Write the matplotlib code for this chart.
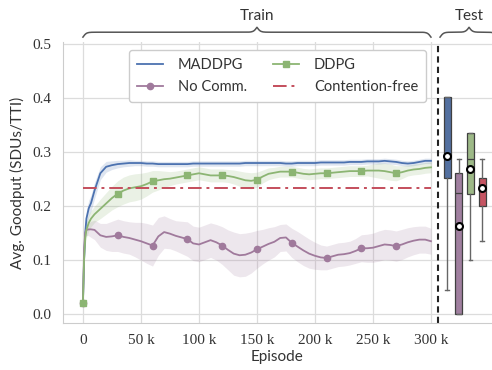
import matplotlib.pyplot as plt
import numpy as np
from matplotlib.ticker import FuncFormatter
import matplotlib.transforms as mtransforms

# episodes in thousands
episodes_k = [0, 1, 2, 3, 5, 7, 10, 15, 20, 25, 30, 35, 40, 45, 50, 55, 60, 65, 70, 75,
              80, 85, 90, 95, 100, 105, 110, 115, 120, 125, 130, 135, 140, 145, 150, 155,
              160, 165, 170, 175, 180, 185, 190, 195, 200, 205, 210, 215, 220, 225, 230,
              235, 240, 245, 250, 255, 260, 265, 270, 275, 280, 285, 290, 295, 300]

maddpg = [0.02, 0.10, 0.15, 0.176, 0.195, 0.205, 0.228, 0.26, 0.272, 0.275, 0.277, 0.278,
          0.279, 0.279, 0.279, 0.278, 0.278, 0.277, 0.277, 0.277, 0.277, 0.277, 0.277,
          0.278, 0.278, 0.278, 0.278, 0.278, 0.278, 0.278, 0.278, 0.278, 0.279, 0.279,
          0.279, 0.279, 0.279, 0.279, 0.279, 0.278, 0.278, 0.279, 0.279, 0.279, 0.279,
          0.280, 0.280, 0.280, 0.280, 0.280, 0.281, 0.281, 0.281, 0.282, 0.282, 0.282,
          0.283, 0.282, 0.281, 0.279, 0.278, 0.279, 0.281, 0.283, 0.283]
maddpg_sd = [0.0, 0.01, 0.015, 0.015, 0.015, 0.015, 0.015, 0.012, 0.01, 0.008, 0.007,
             0.006, 0.006, 0.005, 0.005, 0.005, 0.005, 0.005, 0.005, 0.005, 0.005, 0.005,
             0.005, 0.005, 0.005, 0.005, 0.005, 0.005, 0.005, 0.005, 0.005, 0.005, 0.005,
             0.005, 0.005, 0.005, 0.005, 0.005, 0.005, 0.005, 0.005, 0.005, 0.005, 0.005,
             0.005, 0.005, 0.005, 0.005, 0.005, 0.005, 0.005, 0.005, 0.005, 0.005, 0.005,
             0.005, 0.005, 0.005, 0.005, 0.005, 0.005, 0.005, 0.005, 0.005, 0.005]

ddpg = [0.02, 0.10, 0.14, 0.155, 0.168, 0.176, 0.184, 0.194, 0.204, 0.214, 0.222, 0.228,
        0.232, 0.234, 0.236, 0.240, 0.245, 0.247, 0.249, 0.250, 0.252, 0.254, 0.256,
        0.258, 0.260, 0.258, 0.256, 0.256, 0.256, 0.255, 0.253, 0.250, 0.247, 0.246,
        0.248, 0.254, 0.259, 0.261, 0.263, 0.263, 0.263, 0.261, 0.259, 0.258, 0.259,
        0.260, 0.260, 0.261, 0.262, 0.263, 0.264, 0.264, 0.264, 0.265, 0.265, 0.265,
        0.264, 0.262, 0.260, 0.262, 0.265, 0.267, 0.268, 0.270, 0.271]
ddpg_sd = [0.0, 0.01, 0.012, 0.015, 0.015, 0.015, 0.015, 0.018, 0.02, 0.022, 0.024, 0.025,
           0.025, 0.025, 0.024, 0.022, 0.02, 0.018, 0.015, 0.013, 0.012, 0.012, 0.012,
           0.012, 0.012, 0.012, 0.012, 0.012, 0.012, 0.012, 0.013, 0.014, 0.015, 0.015,
           0.014, 0.012, 0.011, 0.01, 0.01, 0.01, 0.01, 0.01, 0.01, 0.01, 0.01, 0.01,
           0.01, 0.01, 0.01, 0.01, 0.01, 0.01, 0.01, 0.01, 0.012, 0.014, 0.015, 0.015,
           0.014, 0.012, 0.01, 0.01, 0.01, 0.01, 0.01]

no_comm = [0.02, 0.12, 0.15, 0.155, 0.156, 0.156, 0.155, 0.145, 0.142, 0.143, 0.145,
           0.142, 0.140, 0.137, 0.134, 0.130, 0.126, 0.143, 0.151, 0.148, 0.144, 0.141,
           0.138, 0.130, 0.128, 0.132, 0.136, 0.132, 0.126, 0.118, 0.111, 0.108, 0.109,
           0.113, 0.119, 0.124, 0.129, 0.133, 0.140, 0.141, 0.131, 0.124, 0.117, 0.111,
           0.107, 0.104, 0.103, 0.106, 0.109, 0.110, 0.112, 0.116, 0.121, 0.121, 0.122,
           0.125, 0.128, 0.127, 0.125, 0.128, 0.132, 0.135, 0.137, 0.137, 0.134]
no_comm_sd = [0.0, 0.005, 0.008, 0.01, 0.012, 0.015, 0.018, 0.022, 0.025, 0.028, 0.03,
              0.03, 0.03, 0.032, 0.035, 0.037, 0.038, 0.035, 0.03, 0.028, 0.028, 0.03,
              0.032, 0.032, 0.032, 0.032, 0.032, 0.033, 0.035, 0.037, 0.04, 0.04, 0.04,
              0.038, 0.035, 0.032, 0.03, 0.028, 0.025, 0.025, 0.027, 0.028, 0.028, 0.027,
              0.025, 0.023, 0.022, 0.022, 0.022, 0.022, 0.022, 0.023, 0.025, 0.026, 0.027,
              0.028, 0.028, 0.028, 0.028, 0.028, 0.027, 0.026, 0.025, 0.025, 0.024]

contention_free = 0.233

# test results (box plots)
box_names = ['MADDPG', 'No Comm.', 'DDPG', 'Contention-free']
box_q1 = [0.251, 0.0, 0.222, 0.200]
box_med = [0.290, 0.223, 0.287, 0.235]
box_q3 = [0.402, 0.260, 0.335, 0.251]
box_lo = [0.043, 0.0, 0.100, 0.134]
box_hi = [0.402, 0.286, 0.335, 0.286]
box_mean = [0.292, 0.162, 0.268, 0.233]

c_blue = '#4c72b0'
c_green = '#8cb573'
c_purple = '#a07a9c'
c_red = '#c44e5c'
box_colors = ['#5370a0', '#a07f9f', '#9db987', '#c55462']

sans = ['Lato', 'DejaVu Sans']
serif = ['Liberation Serif', 'DejaVu Serif']

fig = plt.figure(figsize=(4.92, 3.70), dpi=100)
ax = fig.add_axes([0.128, 0.127, 0.872, 0.759])

x = np.array(episodes_k) * 1000.0
mark_idx = [i for i, e in enumerate(episodes_k) if e % 30 == 0 and e < 300]

def curve(y, sd, color, label, marker=None, ms=4.5):
    y = np.array(y)
    sd = np.array(sd)
    ax.fill_between(x, y - sd, y + sd, color=color, alpha=0.18, lw=0)
    line, = ax.plot(x, y, color=color, lw=1.3, label=label, marker=marker,
                    ms=ms, markevery=mark_idx if marker else None)
    return line

h_mad = curve(maddpg, maddpg_sd, c_blue, 'MADDPG')
h_nc = curve(no_comm, no_comm_sd, c_purple, 'No Comm.', 'o')
h_dd = curve(ddpg, ddpg_sd, c_green, 'DDPG', 's', 4.2)
h_cf, = ax.plot([0, 300000], [contention_free, contention_free], color=c_red, lw=1.4,
                ls=(0, (7, 2.5, 1.5, 2.5)), label='Contention-free')

# boxes for the test phase
stats = []
for i in range(len(box_names)):
    stats.append(dict(label=box_names[i], q1=box_q1[i], med=box_med[i], q3=box_q3[i],
                      whislo=box_lo[i], whishi=box_hi[i], mean=box_mean[i], fliers=[]))
positions = [314000 + 10000 * i for i in range(len(stats))]
bp = ax.bxp(stats, positions=positions, widths=6000, patch_artist=True, showmeans=True,
            manage_ticks=False,
            boxprops=dict(edgecolor='#404040', lw=0.9),
            medianprops=dict(color='#404040', lw=0.9),
            whiskerprops=dict(color='#666666', lw=1.0),
            capprops=dict(color='#666666', lw=1.0),
            meanprops=dict(marker='o', mfc='white', mec='black', ms=5, mew=1.5))
for patch, c in zip(bp['boxes'], box_colors):
    patch.set_facecolor(c)

ax.axvline(306000, color='#222222', lw=1.5, ls=(0, (3, 2)))

ax.set_xlim(-17200, 352600)
ax.set_ylim(-0.0176, 0.503)
ax.set_xticks(np.arange(0, 300001, 50000))
ax.set_yticks(np.arange(0, 0.51, 0.1))
ax.xaxis.set_major_formatter(FuncFormatter(lambda v, p: '0' if v == 0 else f'{int(v / 1000)} k'))
ax.yaxis.set_major_formatter(FuncFormatter(lambda v, p: f'{v:.1f}'))
for lab in ax.get_xticklabels() + ax.get_yticklabels():
    lab.set_family(serif)
    lab.set_fontsize(11)
    lab.set_color('#333333')
ax.tick_params(length=0, pad=8)
ax.grid(True, color='#dcdcdc', lw=0.9)
ax.set_axisbelow(True)
for s in ['top', 'right']:
    ax.spines[s].set_visible(False)
for s in ['left', 'bottom']:
    ax.spines[s].set_color('#cccccc')

ax.set_xlabel('Episode', family=sans, fontsize=11, color='#333333', labelpad=2)
ax.set_ylabel('Avg. Goodput (SDUs/TTI)', family=sans, fontsize=11, color='#333333', labelpad=6)

leg = ax.legend([h_mad, h_nc, h_dd, h_cf], ['MADDPG', 'No Comm.', 'DDPG', 'Contention-free'],
                ncol=2, loc='upper center', bbox_to_anchor=(0.5, 0.997),
                prop={'family': sans, 'size': 10.5}, frameon=True, fancybox=True,
                edgecolor='#cccccc', framealpha=1.0, columnspacing=1.8,
                handlelength=1.8, handletextpad=1.0, borderpad=0.55, labelspacing=0.5)
for t in leg.get_texts():
    t.set_color('#333333')

# curly braces above the axes
trans = mtransforms.blended_transform_factory(ax.transData, ax.transAxes)

def brace(x0, x1, text):
    mid = (x0 + x1) / 2
    beta = 1 / 1500.0
    xs = np.linspace(x0, mid, 200)
    half = 1 / (1 + np.exp(-beta * (xs - x0))) + 1 / (1 + np.exp(-beta * (xs - mid)))
    bx = np.concatenate([xs, x1 - xs[::-1] + x0])
    braw = np.concatenate([half, half[::-1]])
    by = 1.018 + (braw - 0.5) * 0.035
    ax.plot(bx, by, color='#555555', lw=1.1, transform=trans, clip_on=False)
    ax.text(mid, 1.092, text, transform=trans, ha='center', va='center',
            family=sans, fontsize=11, color='#333333')

brace(0, 300000, 'Train')
brace(307800, 357800, 'Test')

fig.savefig('out.png', dpi=100)
